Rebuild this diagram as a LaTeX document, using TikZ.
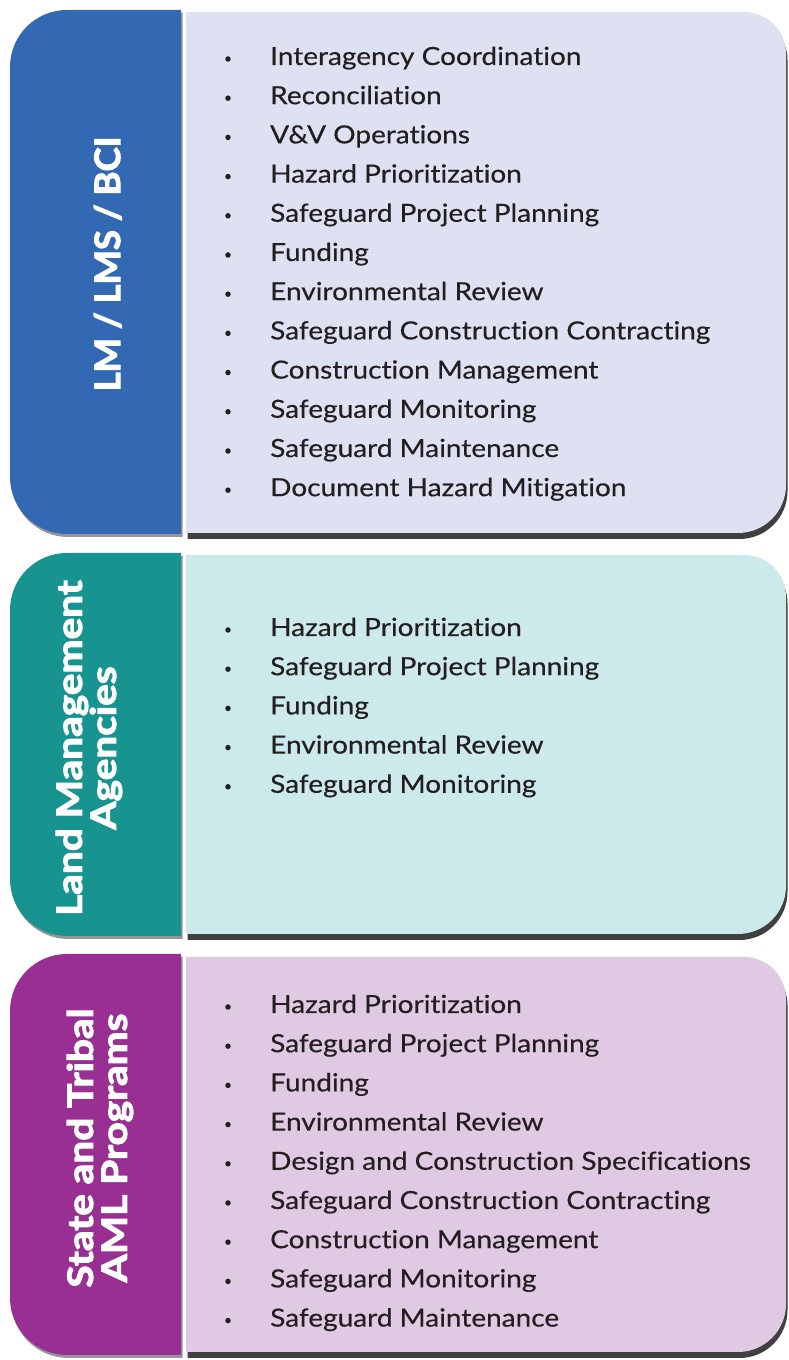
\documentclass[tikz,border=0pt]{standalone}
\usepackage{fontspec}
\setmainfont{Lato}[Ligatures=NoCommon, FakeStretch=1.12, FakeBold=0.35]
\newfontfamily\labelfont{Lato}[Ligatures=NoCommon, FakeStretch=1.04,
  BoldFeatures={FakeBold=3}]
\newfontfamily\widelabelfont{Lato}[Ligatures=NoCommon, FakeStretch=1.16,
  BoldFeatures={FakeBold=3}]
\definecolor{tabblue}{HTML}{3369B3}
\definecolor{panelblue}{HTML}{DDE1F1}
\definecolor{tabteal}{HTML}{17948F}
\definecolor{panelteal}{HTML}{CCE9EB}
\definecolor{tabpurple}{HTML}{992F92}
\definecolor{panelpurple}{HTML}{E0C9E2}
\definecolor{shadowgray}{HTML}{404040}
\definecolor{inkdark}{HTML}{231F20}
% tab on the left: rounded on its left side only
\newcommand\drawtab[3]{%
  \fill[shadowgray,opacity=0.55] ([shift={(1.5,-3)}]181,#1) -- ([shift={(1.5,-3)}]67,#1)
    arc[start angle=90,end angle=180,radius=57] -- ([shift={(1.5,-3)}]10,#2+57)
    arc[start angle=180,end angle=270,radius=57] -- ([shift={(1.5,-3)}]181,#2) -- cycle;
  \fill[#3] (181,#1) -- (67,#1) arc[start angle=90,end angle=180,radius=57]
    -- (10,#2+57) arc[start angle=180,end angle=270,radius=57] -- (181,#2) -- cycle;}
% list panel: rounded on its right side only
\newcommand\drawpanel[3]{%
  \fill[shadowgray] ([shift={(1.5,-6)}]186,#1) -- ([shift={(1.5,-6)}]744,#1)
    arc[start angle=90,end angle=0,radius=42] -- ([shift={(1.5,-6)}]786,#2+48)
    arc[start angle=0,end angle=-90,radius=48] -- ([shift={(1.5,-6)}]186,#2) -- cycle;
  \fill[#3] (186,#1) -- (744,#1) arc[start angle=90,end angle=0,radius=42]
    -- (786,#2+48) arc[start angle=0,end angle=-90,radius=48] -- (186,#2) -- cycle;}
\begin{document}
\begin{tikzpicture}[x=1pt,y=1pt,
  itemtext/.style={anchor=base west, inner sep=0, text=inkdark,
    font=\fontsize{25}{30}\selectfont},
  bulletdot/.style={circle, fill=inkdark, inner sep=0, minimum size=5.5},
  tablabel/.style={rotate=90, text=white, align=center, inner sep=0,
    font=\labelfont\bfseries\fontsize{35}{34}\selectfont},
  widetablabel/.style={tablabel,
    font=\widelabelfont\bfseries\fontsize{35}{34}\selectfont}]
\useasboundingbox[fill=white] (0,0) rectangle (789,1360);

% LM / LMS / BCI
\drawtab{1350}{826}{tabblue}
\drawpanel{1348}{827}{panelblue}
\node[tablabel, anchor=base] (labA) at (120,1096) {LM / LMS / BCI};
\foreach \t [count=\i] in {Interagency Coordination, Reconciliation,
    V\&V Operations, Hazard Prioritization, Safeguard Project Planning,
    Funding, Environmental Review, Safeguard Construction Contracting,
    Construction Management, Safeguard Monitoring, Safeguard Maintenance,
    Document Hazard Mitigation} {
  \node[bulletdot] (a-\i-dot) at (228,{1295-(\i-1)*39.2+6}) {};
  \node[itemtext] (a-\i) at (270,{1295-(\i-1)*39.2}) {\t};
}

% Land Management Agencies
\drawtab{807}{424}{tabteal}
\drawpanel{805}{426}{panelteal}
\node[widetablabel] (labB) at (89,612) {Land Management\\Agencies};
\foreach \t [count=\i] in {Hazard Prioritization, Safeguard Project Planning,
    Funding, Environmental Review, Safeguard Monitoring} {
  \node[bulletdot] (b-\i-dot) at (228,{724-(\i-1)*39.2+6}) {};
  \node[itemtext] (b-\i) at (270,{724-(\i-1)*39.2}) {\t};
}

% State and Tribal AML Programs
\drawtab{406}{5}{tabpurple}
\drawpanel{403}{8}{panelpurple}
\node[widetablabel] (labC) at (100,212) {State and Tribal\\AML Programs};
\foreach \t [count=\i] in {Hazard Prioritization, Safeguard Project Planning,
    Funding, Environmental Review, Design and Construction Specifications,
    Safeguard Construction Contracting, Construction Management,
    Safeguard Monitoring, Safeguard Maintenance} {
  \node[bulletdot] (c-\i-dot) at (228,{347-(\i-1)*39.2+6}) {};
  \node[itemtext] (c-\i) at (270,{347-(\i-1)*39.2}) {\t};
}
\end{tikzpicture}
\end{document}
